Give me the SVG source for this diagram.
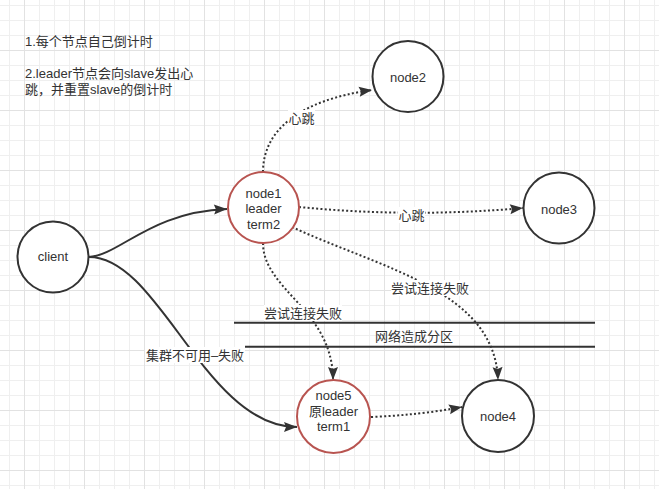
<svg xmlns="http://www.w3.org/2000/svg" width="659" height="489" viewBox="0 0 659 489">
<defs>
<pattern id="grid" patternUnits="userSpaceOnUse" x="24" y="50" width="60" height="60">
<path d="M15.5 0V60M30.5 0V60M45.5 0V60M0 15.5H60M0 30.5H60M0 45.5H60" stroke="#efefef" stroke-width="1" fill="none"/>
<path d="M0.5 0V60M0 0.5H60" stroke="#e2e2e2" stroke-width="1" fill="none"/>
</pattern>
<marker id="arr" markerUnits="userSpaceOnUse" markerWidth="14" markerHeight="11" refX="13" refY="5" orient="auto" overflow="visible">
<path d="M0,0 L13,5 L0,10 L2,5 Z" fill="#333"/>
</marker>
<style>
.node{fill:#fff;stroke:#333;stroke-width:2}
.red{stroke:#b85450}
.t{font-family:"Liberation Sans","Noto Sans CJK SC",sans-serif;font-size:13px;fill:#333}
.c{text-anchor:middle}
.e{fill:none;stroke:#333;stroke-width:2;marker-end:url(#arr)}
.dot{stroke-dasharray:2 2.3}
.lbl{fill:#fff}
.bar{stroke:#333;stroke-width:2}
</style>
</defs>
<rect width="659" height="489" fill="#fff"/>
<rect width="659" height="489" fill="url(#grid)"/>

<g id="notes">
<text class="t" x="25" y="46">1.每个节点自己倒计时</text>
<text class="t" x="25" y="78">2.leader节点会向slave发出心</text>
<text class="t" x="25" y="94">跳，并重置slave的倒计时</text>
</g>

<g id="partition">
<line class="bar" x1="234" y1="322.7" x2="595" y2="322.7"/>
<line class="bar" x1="245" y1="346.7" x2="595" y2="346.7"/>
<text class="t c" x="414" y="340.5">网络造成分区</text>
</g>

<g id="connectors">
<path class="e" d="M89 257 C120 255 150 212 227 209"/>
<path class="e" d="M89 257 C160 257 205 427 297 427"/>
<path class="e dot" d="M263 172 C263 130 300 100 372 90"/>
<path class="e dot" d="M299 207 Q411 218 523 208"/>
<path class="e dot" d="M292 227 C380 268 495 290 498 380"/>
<path class="e dot" d="M263 243 C263 290 333 310 333 380"/>
<path class="e dot" d="M371 417 Q420 415 462 407"/>
<rect class="lbl" x="288" y="110" width="27" height="16"/>
<text class="t c" x="301.5" y="122.5">心跳</text>
<rect class="lbl" x="398" y="207" width="27" height="16"/>
<text class="t c" x="411.5" y="219.5">心跳</text>
<rect class="lbl" x="391" y="280" width="78" height="16"/>
<text class="t c" x="430" y="292.5">尝试连接失败</text>
<rect class="lbl" x="264" y="305" width="78" height="16"/>
<text class="t c" x="303" y="317.5">尝试连接失败</text>
<rect class="lbl" x="145" y="347" width="100" height="16"/>
<text class="t c" x="195" y="359.5">集群不可用–失败</text>
</g>

<g id="client">
<circle class="node" cx="53" cy="257" r="35.5"/>
<text class="t c" x="53" y="261">client</text>
</g>
<g id="node1">
<circle class="node red" cx="263.5" cy="207.5" r="35.5"/>
<text class="t c" x="263.5" y="198">node1</text>
<text class="t c" x="263.5" y="213">leader</text>
<text class="t c" x="263.5" y="228.5">term2</text>
</g>
<g id="node2">
<circle class="node" cx="408" cy="76.5" r="35.5"/>
<text class="t c" x="408" y="82">node2</text>
</g>
<g id="node3">
<circle class="node" cx="559" cy="208" r="35.5"/>
<text class="t c" x="559" y="213.5">node3</text>
</g>
<g id="node5">
<circle class="node red" cx="333.5" cy="416.5" r="36.5"/>
<text class="t c" x="333.5" y="399.5">node5</text>
<text class="t c" x="333.5" y="415.5">原leader</text>
<text class="t c" x="333.5" y="431">term1</text>
</g>
<g id="node4">
<circle class="node" cx="498" cy="416" r="36"/>
<text class="t c" x="498" y="421">node4</text>
</g>
</svg>
